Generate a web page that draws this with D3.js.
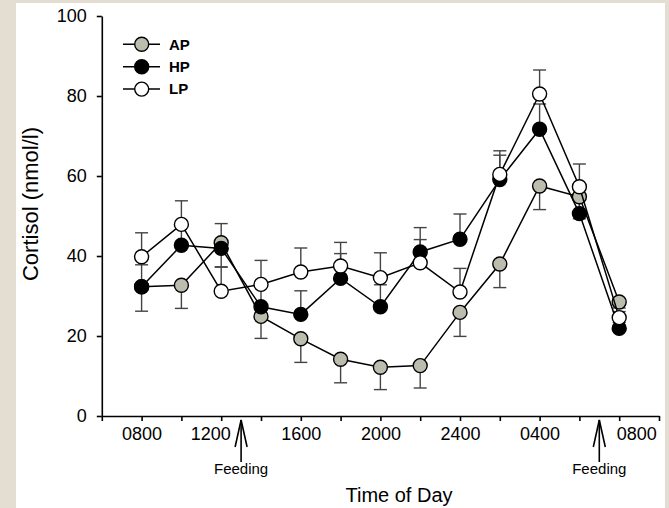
<!DOCTYPE html>
<html>
<head>
<meta charset="utf-8">
<script src="https://cdn.jsdelivr.net/npm/d3@7"></script>
<style>
  html, body { margin: 0; padding: 0; background: #e4ddd1; }
  svg { display: block; }
  text { font-family: "Liberation Sans", Arial, sans-serif; }
</style>
</head>
<body>
<script>
// time points, every 2 hours from 0800 to 0800 next day
var times = ["0800","1000","1200","1400","1600","1800","2000","2200","2400","0200","0400","0600","0800"];
var tickLabels = ["0800","1200","1600","2000","2400","0400","0800"];
var yTicks = [0, 20, 40, 60, 80, 100];

var apValues = [32.3, 32.7, 43.3, 24.9, 19.3, 14.2, 12.2, 12.6, 25.9, 38.0, 57.5, 54.8, 28.5];
var apErrors = [6.1, 5.8, 6.0, 5.5, 5.9, 5.9, 5.6, 5.6, 6.0, 5.9, 5.9, 5.5, 1.5];
var hpValues = [32.3, 42.7, 41.9, 27.3, 25.4, 34.4, 27.3, 41.0, 44.2, 59.1, 71.7, 50.6, 21.9];
var hpErrors = [5.5, 5.0, 6.2, 5.0, 5.9, 6.2, 5.5, 6.1, 6.3, 6.1, 6.3, 4.5, 1.5];
var lpValues = [39.8, 47.9, 31.2, 32.9, 36.0, 37.5, 34.6, 38.3, 31.0, 60.4, 80.5, 57.3, 24.6];
var lpErrors = [6.0, 5.9, 6.0, 6.0, 6.0, 5.9, 6.2, 5.8, 5.9, 5.9, 6.0, 5.7, 1.5];

// feeding times (in steps of 2 h from 0800): 1300 and 0700
var feedings = [2.5, 11.5];

var series = [
  {name: 'AP', values: apValues, errors: apErrors, dir: -1, fill: '#bdbdaf'},
  {name: 'HP', values: hpValues, errors: hpErrors, dir: 1, fill: '#000'},
  {name: 'LP', values: lpValues, errors: lpErrors, dir: 1, fill: '#fff'}
];

var width = 669, height = 508;

var svg = d3.select('body').append('svg')
  .attr('width', width)
  .attr('height', height);

// white panel
svg.append('rect')
  .attr('x', 16).attr('y', 3)
  .attr('width', 649).attr('height', height - 3)
  .attr('fill', '#fff');

var xScale = d3.scaleLinear().domain([-1, 13]).range([101.8, 659]);
var yScale = d3.scaleLinear().domain([0, 100]).range([416, 16]);

// y axis
var yAxis = d3.axisLeft(yScale)
  .tickValues(yTicks)
  .tickSize(5)
  .tickSizeOuter(0)
  .tickPadding(10);
var gy = svg.append('g')
  .attr('transform', 'translate(' + xScale(-1) + ',0)')
  .call(yAxis);
gy.selectAll('text').attr('font-size', '18px').attr('fill', '#000');

// x axis
var xAxis = d3.axisBottom(xScale)
  .tickValues(d3.range(-1, 14))
  .tickSize(5)
  .tickSizeOuter(0)
  .tickPadding(6)
  .tickFormat(function(d){
    return (d >= 0 && d % 2 === 0) ? tickLabels[d / 2] : '';
  });
var gx = svg.append('g')
  .attr('transform', 'translate(0,' + yScale(0) + ')')
  .call(xAxis);
gx.selectAll('text').attr('font-size', '18px').attr('fill', '#000');

// labels next to a feeding arrow are pushed aside to make room for it
gx.selectAll('.tick text')
  .attr('dx', function(d){
    if (d === 2) return -11;
    if (d === 12) return 17;
    return 0;
  });

svg.selectAll('.domain, .tick line')
  .attr('stroke', '#000')
  .attr('stroke-width', 1.6);

// axis titles
svg.append('text')
  .attr('transform', 'translate(38,' + 204 + ') rotate(-90)')
  .attr('text-anchor', 'middle')
  .attr('font-size', '22px')
  .text('Cortisol (nmol/l)');

svg.append('text')
  .attr('x', 399).attr('y', 502)
  .attr('text-anchor', 'middle')
  .attr('font-size', '20px')
  .text('Time of Day');

// feeding arrows
var feed = svg.selectAll('.feed')
  .data(feedings)
  .enter()
  .append('g')
  .attr('class', 'feed')
  .attr('transform', function(d){ return 'translate(' + xScale(d) + ',0)'; });
feed.append('line')
  .attr('x1', 0).attr('x2', 0)
  .attr('y1', 420).attr('y2', 462)
  .attr('stroke', '#000').attr('stroke-width', 1.6);
feed.append('path')
  .attr('d', 'M-6,447L0,420L6,447')
  .attr('fill', 'none')
  .attr('stroke', '#000').attr('stroke-width', 1.6);
feed.append('text')
  .attr('y', 474)
  .attr('text-anchor', 'middle')
  .attr('font-size', '15px')
  .text('Feeding');

// error bars
var capW = 6.5;
series.forEach(function(s){
  var eb = svg.append('g').attr('class', 'err-' + s.name);
  s.values.forEach(function(v, i){
    var y0 = yScale(v);
    var y1 = yScale(v + s.dir * s.errors[i]);
    var x = xScale(i);
    eb.append('line')
      .attr('x1', x).attr('x2', x).attr('y1', y0).attr('y2', y1)
      .attr('stroke', '#444').attr('stroke-width', 1.4);
    eb.append('line')
      .attr('x1', x - capW).attr('x2', x + capW).attr('y1', y1).attr('y2', y1)
      .attr('stroke', '#444').attr('stroke-width', 1.4);
  });
});

// lines and markers
var line = d3.line()
  .x(function(d, i){ return xScale(i); })
  .y(function(d){ return yScale(d); });

series.forEach(function(s){
  svg.append('path')
    .datum(s.values)
    .attr('d', line)
    .attr('fill', 'none')
    .attr('stroke', '#000')
    .attr('stroke-width', 1.5);
  svg.selectAll('.pt-' + s.name)
    .data(s.values)
    .enter()
    .append('circle')
    .attr('class', 'pt-' + s.name)
    .attr('cx', function(d, i){ return xScale(i); })
    .attr('cy', function(d){ return yScale(d); })
    .attr('r', 7)
    .attr('fill', s.fill)
    .attr('stroke', '#000')
    .attr('stroke-width', 1.4);
});

// legend
var legend = svg.selectAll('.legend')
  .data(series)
  .enter()
  .append('g')
  .attr('class', 'legend')
  .attr('transform', function(d, i){ return 'translate(0,' + (44.3 + i * 22.4) + ')'; });
legend.append('line')
  .attr('x1', 123).attr('x2', 160)
  .attr('stroke', '#000').attr('stroke-width', 1.5);
legend.append('circle')
  .attr('cx', 141.7).attr('r', 7)
  .attr('fill', function(d){ return d.fill; })
  .attr('stroke', '#000').attr('stroke-width', 1.4);
legend.append('text')
  .attr('x', 169).attr('dy', '0.35em')
  .attr('font-size', '15px')
  .attr('font-weight', 'bold')
  .text(function(d){ return d.name; });
</script>
</body>
</html>
